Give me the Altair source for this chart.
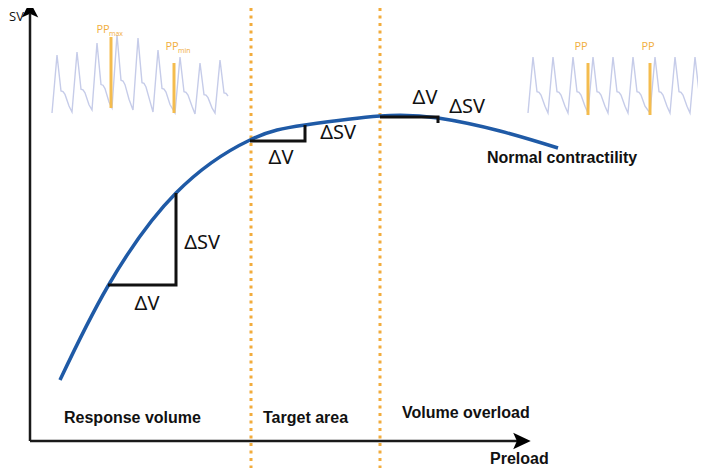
import altair as alt
import pandas as pd

# ---------------- data (picture units: x = preload, y = SV, y grows downward) ----
curve_x = [60, 108, 176, 250, 305, 380, 438, 500, 558]
curve_y = [380, 286, 193, 140, 125, 116, 118, 131, 148]

# slope triangles (dV horizontal leg, dSV vertical leg)
tri_id = ["t1", "t1", "t1", "t2", "t2", "t2", "t3", "t3", "t3"]
tri_x = [108, 176, 176, 250, 305, 305, 380, 438, 438]
tri_y = [285, 285, 193, 141, 141, 125, 117, 117, 123]

delta_text = ["ΔV", "ΔSV", "ΔV", "ΔSV", "ΔV", "ΔSV"]
delta_x = [147, 202, 281, 338, 425, 467]
delta_y = [304, 243, 158, 133, 98, 107]

# zone borders
zone_x = [251, 380]

region_text = ["Response volume", "Target area", "Volume overload", "Normal contractility"]
region_x = [64, 263, 402, 487]
region_y = [418, 418, 413, 158]

# arterial pressure waveforms: beat shape (dx, fraction of pulse pressure)
beat_dx = [0, 5, 9, 11, 13, 17]
beat_f = [0.0, 1.0, 0.38, 0.37, 0.32, 0.12]
# left panel (respiratory variation)
left_start = [52, 72, 92, 112, 133, 153, 175, 195, 215]
left_peak = [55, 52, 43, 35, 38, 50, 57, 63, 60]
left_trough = [113, 112, 110, 108, 110, 112, 113, 114, 113]
# right panel (no variation)
right_start = [528, 548, 568, 588, 608, 628, 650, 670, 690]
right_peak = [57, 57, 57, 57, 57, 57, 57, 57, 57]
right_trough = [113, 113, 113, 113, 113, 113, 113, 113, 113]

# pulse pressure bars
pp_x = [111, 174, 588, 650]
pp_top = [37, 63, 63, 63]
pp_bottom = [108, 113, 115, 115]
pp_text = ["PP", "PP", "PP", "PP"]
pp_tx = [103, 172, 581, 648]
pp_ty = [30, 47, 47, 47]
pp_sub = ["max", "min"]
pp_sx = [109, 178]
pp_sy = [34, 51]

# axes
axis_origin = (30, 441)
x_axis_end = 518
y_axis_end = 14

# ---------------- build tables ----------------
curve = pd.DataFrame({"preload": curve_x, "sv": curve_y, "i": range(len(curve_x))})
tri = pd.DataFrame({"id": tri_id, "preload": tri_x, "sv": tri_y, "i": range(len(tri_x))})
deltas = pd.DataFrame({"t": delta_text, "preload": delta_x, "sv": delta_y})
zones = pd.DataFrame({"preload": zone_x, "top": [8, 8], "bottom": [468, 468]})
regions = pd.DataFrame({"t": region_text, "preload": region_x, "sv": region_y})

rows = []
k = 0
for panel, starts, peaks, troughs, last_n in [
    ("L", left_start, left_peak, left_trough, 5),
    ("R", right_start, right_peak, right_trough, 6),
]:
    for b, (s, p, tr) in enumerate(zip(starts, peaks, troughs)):
        n = len(beat_dx) if b < len(starts) - 1 else last_n
        for dx, f in list(zip(beat_dx, beat_f))[:n]:
            rows.append({"panel": panel, "preload": s + dx, "sv": tr - f * (tr - p), "i": k})
            k += 1
wave = pd.DataFrame(rows)

pp = pd.DataFrame({"preload": pp_x, "top": pp_top, "bottom": pp_bottom})
ppt = pd.DataFrame({"t": pp_text, "preload": pp_tx, "sv": pp_ty})
pps = pd.DataFrame({"t": pp_sub, "preload": pp_sx, "sv": pp_sy})

axes = pd.DataFrame({
    "x1": [axis_origin[0], axis_origin[0]],
    "x2": [x_axis_end, axis_origin[0]],
    "y1": [axis_origin[1], axis_origin[1]],
    "y2": [axis_origin[1], y_axis_end],
})
arrows = pd.DataFrame({
    "preload": [30, 521.5],
    "sv": [11, 441],
    "shape": ["M0,-1L0.9,0.7L0,0.3L-0.9,0.7Z", "M1,0L-0.9,0.9L-0.5,0L-0.9,-0.9Z"],
})

# ---------------- scales ----------------
XS = alt.Scale(domain=[8, 698], nice=False, zero=False)
YS = alt.Scale(domain=[8, 468], nice=False, zero=False, reverse=True)


def X(field="preload"):
    return alt.X(field, type="quantitative", scale=XS, axis=None)


def Y(field="sv"):
    return alt.Y(field, type="quantitative", scale=YS, axis=None)


zone_layer = alt.Chart(zones).mark_rule(
    color="#F2AC3C", strokeWidth=3, strokeDash=[3, 4.5]
).encode(x=X(), y=Y("top"), y2="bottom")

wave_layer = alt.Chart(wave).mark_line(
    color="#C6CCE9", strokeWidth=1.4, interpolate="linear"
).encode(x=X(), y=Y(), detail="panel:N", order="i:Q")

pp_layer = alt.Chart(pp).mark_rule(color="#F4BC4E", strokeWidth=3).encode(
    x=X(), y=Y("top"), y2="bottom"
)

ppt_layer = alt.Chart(ppt).mark_text(
    color="#F1AE40", fontSize=11, font="Open Sans", align="center", baseline="middle"
).encode(x=X(), y=Y(), text="t:N")

pps_layer = alt.Chart(pps).mark_text(
    color="#F1AE40", fontSize=7, font="Open Sans", align="left", baseline="middle"
).encode(x=X(), y=Y(), text="t:N")

curve_layer = alt.Chart(curve).mark_line(
    color="#1F5AA6", strokeWidth=3.5, interpolate="natural"
).encode(x=X(), y=Y(), order="i:Q")

tri_layer = alt.Chart(tri).mark_line(color="#111111", strokeWidth=3).encode(
    x=X(), y=Y(), detail="id:N", order="i:Q"
)

delta_layer = alt.Chart(deltas).mark_text(
    color="#111111", fontSize=20, font="Noto Sans", align="center", baseline="middle"
).encode(x=X(), y=Y(), text="t:N")

region_layer = alt.Chart(regions).mark_text(
    color="#111111", fontSize=16, font="Liberation Sans", fontWeight="bold",
    align="left", baseline="middle"
).encode(x=X(), y=Y(), text="t:N")

axes_layer = alt.Chart(axes).mark_rule(color="#1A1A1A", strokeWidth=2.5).encode(
    x=X("x1"), x2="x2", y=Y("y1"), y2="y2"
)

arrow_layer = alt.Chart(arrows).mark_point(
    filled=True, color="#000000", opacity=1, size=340
).encode(x=X(), y=Y(), shape=alt.Shape("shape:N", scale=None))

axis_titles = pd.DataFrame({"t": ["SV", "Preload"], "preload": [9, 490], "sv": [17, 459]})
sv_title = alt.Chart(axis_titles.iloc[[0]]).mark_text(
    color="#111111", fontSize=13, font="Open Sans", align="left", baseline="middle"
).encode(x=X(), y=Y(), text="t:N")
pre_title = alt.Chart(axis_titles.iloc[[1]]).mark_text(
    color="#111111", fontSize=16, font="Liberation Sans", fontWeight="bold",
    align="left", baseline="middle"
).encode(x=X(), y=Y(), text="t:N")

chart = alt.layer(
    zone_layer, wave_layer, pp_layer, ppt_layer, pps_layer, curve_layer, tri_layer,
    delta_layer, region_layer, axes_layer, arrow_layer, sv_title, pre_title,
).properties(
    width=690, height=460, autosize=alt.AutoSizeParams(type="none"), padding=0,
    background="white",
).configure_view(stroke=None)

chart.save("out.html", embed_options={"renderer": "svg", "actions": False})
